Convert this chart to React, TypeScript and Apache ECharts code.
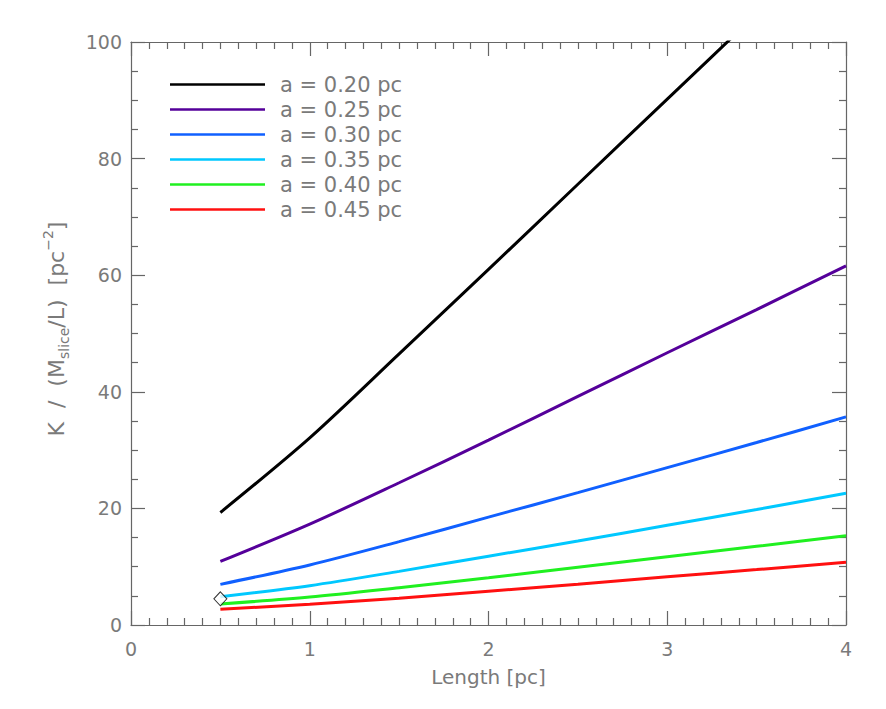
import React, { useEffect, useRef } from "react";
import * as echarts from "echarts";

// Filament length grid (pc)
const lengths = [0.5, 1, 1.5, 2, 2.5, 3, 3.5, 4];

// K / (M_slice / L) for each filament radius a
const k020 = [19.3, 32.1, 46.5, 61.0, 75.6, 90.2, 104.8, 119.5];
const k025 = [10.9, 17.3, 24.4, 31.7, 39.2, 46.7, 54.1, 61.6];
const k030 = [6.97, 10.3, 14.3, 18.5, 22.7, 27.0, 31.3, 35.7];
const k035 = [4.86, 6.75, 9.2, 11.8, 14.4, 17.1, 19.8, 22.6];
const k040 = [3.6, 4.8, 6.4, 8.1, 9.9, 11.7, 13.5, 15.3];
const k045 = [2.69, 3.55, 4.6, 5.8, 7.0, 8.27, 9.5, 10.75];

const seriesNames = [
  "a = 0.20 pc",
  "a = 0.25 pc",
  "a = 0.30 pc",
  "a = 0.35 pc",
  "a = 0.40 pc",
  "a = 0.45 pc",
];
const seriesValues = [k020, k025, k030, k035, k040, k045];
const seriesColors = ["#000000", "#55009a", "#1060ff", "#00c8ff", "#20f020", "#ff1010"];

// Marked reference point
const markerPoint = [0.5, 4.5];

const FONT = "DejaVu Sans";
const TEXT = "#7a7a7a";
const AXIS = "#666666";

export default function App() {
  const ref = useRef<HTMLDivElement>(null);

  useEffect(() => {
    if (!ref.current) return;
    const chart = echarts.init(ref.current, undefined, { renderer: "svg" });

    const axisCommon = {
      type: "value" as const,
      axisLine: { show: true, onZero: false, lineStyle: { color: AXIS, width: 1.2 } },
      axisTick: { show: true, inside: true, length: 14, lineStyle: { color: AXIS, width: 1.2 } },
      minorTick: { show: true, length: 7, lineStyle: { color: AXIS, width: 1.2 } },
      splitLine: { show: false },
    };

    const lineSeries = seriesNames.map((name, i) => ({
      name,
      type: "line" as const,
      xAxisIndex: 0,
      yAxisIndex: 0,
      data: lengths.map((x, j) => [x, seriesValues[i][j]]),
      showSymbol: false,
      symbol: "none",
      smooth: 0.3,
      clip: true,
      lineStyle: { color: seriesColors[i], width: 3 },
      itemStyle: { color: seriesColors[i] },
      z: 3,
    }));

    chart.setOption({
      animation: false,
      backgroundColor: "#ffffff",
      grid: { left: 123, right: 32, top: 34, bottom: 76, containLabel: false },
      legend: {
        show: true,
        data: seriesNames,
        orient: "vertical",
        left: 157,
        top: 61,
        icon: "rect",
        itemWidth: 95,
        itemHeight: 2.5,
        itemGap: 4,
        selectedMode: false,
        textStyle: {
          fontFamily: FONT,
          fontSize: 21,
          color: TEXT,
          lineHeight: 20,
          padding: [0, 0, 0, 10],
        },
      },
      xAxis: [
        {
          ...axisCommon,
          position: "bottom",
          min: 0,
          max: 4,
          interval: 1,
          minorTick: { ...axisCommon.minorTick, splitNumber: 10 },
          axisLabel: { show: true, margin: 14, fontFamily: FONT, fontSize: 19, color: TEXT },
          name: "Length [pc]",
          nameLocation: "middle",
          nameGap: 42,
          nameTextStyle: { fontFamily: FONT, fontSize: 20, color: TEXT },
        },
        {
          ...axisCommon,
          position: "top",
          min: 0,
          max: 4,
          interval: 1,
          minorTick: { ...axisCommon.minorTick, splitNumber: 10 },
          axisLabel: { show: false },
        },
      ],
      yAxis: [
        {
          ...axisCommon,
          position: "left",
          min: 0,
          max: 100,
          interval: 20,
          minorTick: { ...axisCommon.minorTick, splitNumber: 4 },
          axisLabel: { show: true, margin: 9, fontFamily: FONT, fontSize: 19, color: TEXT },
        },
        {
          ...axisCommon,
          position: "right",
          min: 0,
          max: 100,
          interval: 20,
          minorTick: { ...axisCommon.minorTick, splitNumber: 4 },
          axisLabel: { show: false },
        },
      ],
      graphic: [
        {
          type: "text",
          x: 48,
          y: 321,
          rotation: Math.PI / 2,
          style: {
            text: "K  /  (M{sub|slice}/L)  [pc{sup|−2}]",
            fontFamily: FONT,
            fontSize: 22,
            fill: TEXT,
            align: "center",
            verticalAlign: "middle",
            lineHeight: 30,
            rich: {
              sub: { fontFamily: FONT, fontSize: 14, fill: TEXT, verticalAlign: "bottom", lineHeight: 30 },
              sup: { fontFamily: FONT, fontSize: 14, fill: TEXT, verticalAlign: "top", lineHeight: 30 },
            },
          },
        },
      ],
      series: [
        ...lineSeries,
        {
          name: "marker",
          type: "scatter",
          data: [markerPoint],
          symbol: "diamond",
          symbolSize: [13, 14],
          itemStyle: { color: "#ffffff", borderColor: "#000000", borderWidth: 1 },
          z: 5,
        },
      ],
    });

    return () => chart.dispose();
  }, []);

  return <div ref={ref} style={{ width: 870, height: 693 }} />;
}
